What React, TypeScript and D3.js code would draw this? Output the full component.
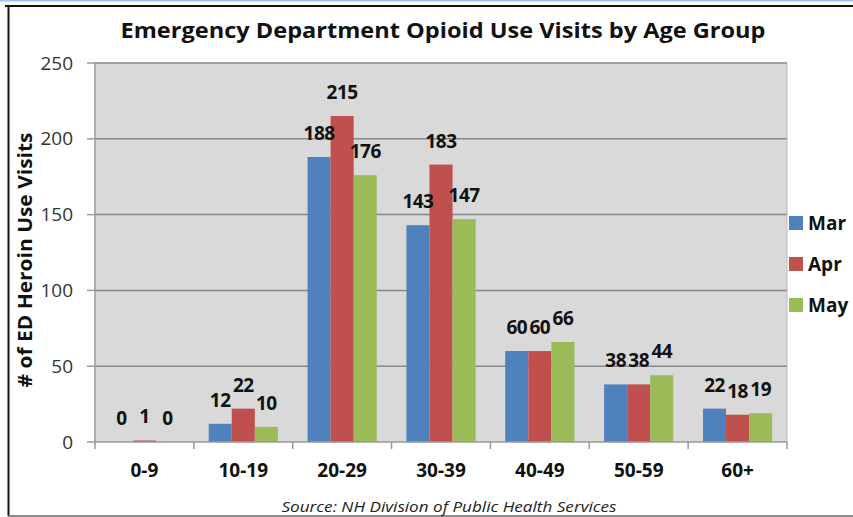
import React from "react";
import * as d3 from "d3";

const categories = ["0-9", "10-19", "20-29", "30-39", "40-49", "50-59", "60+"];
const seriesNames = ["Mar", "Apr", "May"];
const marValues = [0, 12, 188, 143, 60, 38, 22];
const aprValues = [1, 22, 215, 183, 60, 38, 18];
const mayValues = [0, 10, 176, 147, 66, 44, 19];
const yTicks = [0, 50, 100, 150, 200, 250];
const colors = ["#4f81bd", "#c0504d", "#9bbb59"];

const title = "Emergency Department Opioid Use Visits by Age Group";
const yTitle = "# of ED Heroin Use Visits";
const source = "Source: NH Division of Public Health Services";

const FONT = "'Open Sans', 'Liberation Sans', sans-serif";

export default function App() {
  const W = 853, H = 517;
  const left = 95, right = 787, top = 63, bottom = 442;
  const series = [marValues, aprValues, mayValues];

  const x = d3.scaleBand<string>().domain(categories).range([left, right]).paddingInner(0.3).paddingOuter(0.15);
  const x0 = d3.scaleBand<string>().domain(categories).range([left, right]);
  const xs = d3.scaleBand<string>().domain(seriesNames).range([0, x.bandwidth()]);
  const y = d3.scaleLinear().domain([0, 250]).range([bottom, top]);

  return (
    <svg width={W} height={H} style={{ position: "absolute", left: 0, top: 0, background: "#fff" }} fontFamily={FONT}>
      <line x1={0} x2={W} y1={0.5} y2={0.5} stroke="#9dc3e6" strokeWidth={2} />
      <line x1={5} x2={W} y1={6} y2={6} stroke="#111" strokeWidth={2} />
      <line x1={8.5} x2={8.5} y1={5} y2={516} stroke="#111" strokeWidth={2} />
      <line x1={8} x2={W} y1={516} y2={516} stroke="#666" strokeWidth={1.5} />

      <text x={443} y={38} textAnchor="middle" fontSize={22} fontWeight="bold" fill="#111" textLength={645} lengthAdjust="spacingAndGlyphs">{title}</text>

      <rect x={left} y={top} width={right - left} height={bottom - top} fill="#d9d9d9" />
      {yTicks.filter(t => t > 0).map(t => (
        <line key={t} x1={left} x2={right} y1={y(t)} y2={y(t)} stroke="#878787" strokeWidth={1.5} />
      ))}
      <line x1={left} x2={left} y1={top} y2={bottom} stroke="#999" strokeWidth={1.5} />
      <line x1={right} x2={right} y1={top} y2={bottom} stroke="#bbb" strokeWidth={1} />
      {yTicks.map(t => (
        <g key={t}>
          <line x1={87} x2={left} y1={y(t)} y2={y(t)} stroke="#999" strokeWidth={1.5} />
          <text x={73} y={y(t)} dy="0.35em" textAnchor="end" fontSize={19} fill="#333">{t}</text>
        </g>
      ))}

      {categories.map((c, i) => (
        <g key={c}>
          {series.map((vals, s) => {
            const bx = (x(c) as number) + (xs(seriesNames[s]) as number);
            const bw = xs.bandwidth();
            return (
              <rect key={s} x={bx} y={y(vals[i])} width={bw} height={bottom - y(vals[i])} fill={colors[s]} />
            );
          })}
        </g>
      ))}

      <line x1={left} x2={right} y1={bottom} y2={bottom} stroke="#999" strokeWidth={1.5} />
      {categories.concat(["end"]).map((c, i) => {
        const tx = i < categories.length ? (x0(c) as number) : right;
        return <line key={i} x1={tx} x2={tx} y1={bottom} y2={bottom + 7} stroke="#999" strokeWidth={1.5} />;
      })}
      {categories.map(c => (
        <text key={c} x={(x0(c) as number) + x0.bandwidth() / 2} y={477} textAnchor="middle" fontSize={19} fontWeight="bold" fill="#111">{c}</text>
      ))}

      {categories.map((c, i) => (
        <g key={"lab" + c}>
          {series.map((vals, s) => {
            const cx = (x(c) as number) + (xs(seriesNames[s]) as number) + xs.bandwidth() / 2;
            return (
              <text key={s} x={cx} y={y(vals[i]) - 17} textAnchor="middle" fontSize={19} fontWeight="bold" fill="#111" letterSpacing={-0.5}>{vals[i]}</text>
            );
          })}
        </g>
      ))}

      <text transform={`translate(32,260) rotate(-90)`} textAnchor="middle" fontSize={19} fontWeight="bold" fill="#111" textLength={255} lengthAdjust="spacingAndGlyphs">{yTitle}</text>

      {seriesNames.map((n, s) => (
        <g key={n}>
          <rect x={789} y={[223, 264, 305][s] - 7} width={14} height={14} fill={colors[s]} />
          <text x={808} y={[223, 264, 305][s]} dy="0.35em" fontSize={19} fontWeight="bold" fill="#111">{n}</text>
        </g>
      ))}

      <text x={449} y={512} textAnchor="middle" fontSize={15} fontStyle="italic" fill="#222" textLength={335} lengthAdjust="spacingAndGlyphs">{source}</text>
    </svg>
  );
}
